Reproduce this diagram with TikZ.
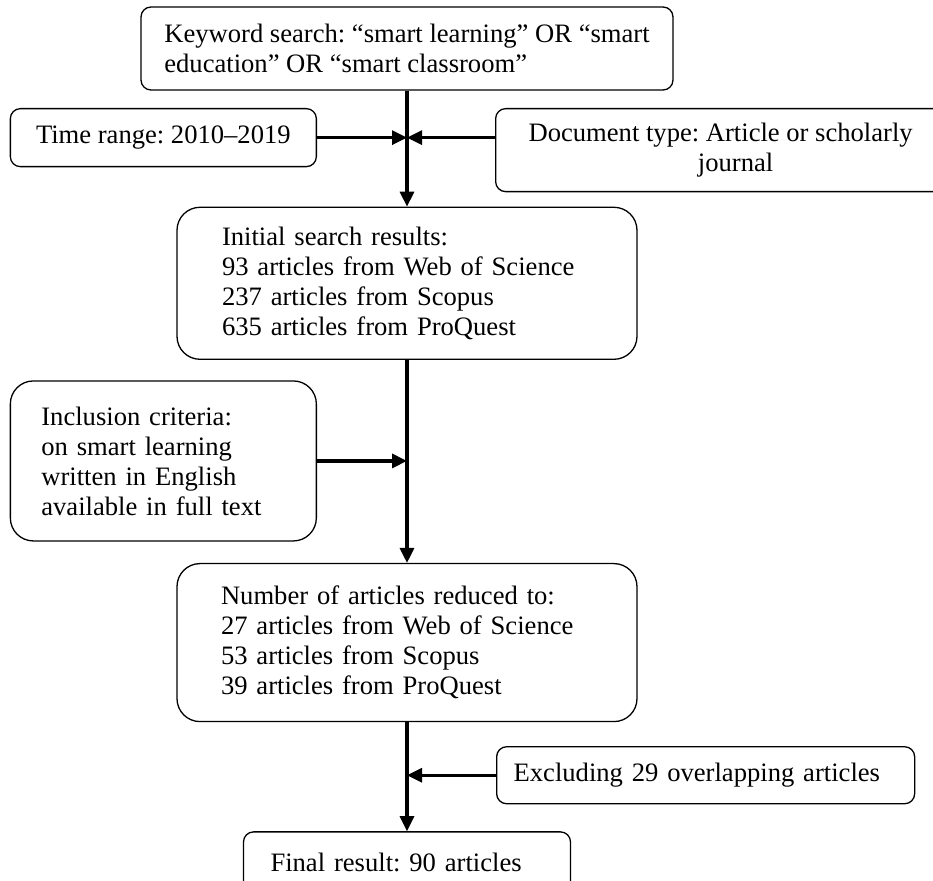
\documentclass[tikz,border=0pt]{standalone}
\usepackage{fontspec}
\setmainfont{Liberation Serif}
\usetikzlibrary{positioning, arrows.meta}
\frenchspacing

\begin{document}
\begin{tikzpicture}[font=\fontsize{13.3}{15}\selectfont, node distance=10pt,
  box/.style={draw=black, line width=0.65pt, rounded corners=5pt, fill=white, inner ysep=2pt},
  bigbox/.style={draw=black, line width=0.65pt, rounded corners=11.5pt, fill=white, inner ysep=2pt, align=left},
  ar/.style={-{Triangle[length=7.5pt, width=7pt]}, black, line width=1.6pt}]

\useasboundingbox (0,0) rectangle (466.5pt,-440.5pt);

\node[box, align=left, minimum width=266pt, minimum height=41.5pt] (kw) at (203.5pt,-24.25pt)
  {Keyword search: “smart learning” OR “smart\\education” OR “smart classroom”};
\coordinate[below=23.5pt of kw] (j1);
\node[box, align=left, minimum width=153pt, minimum height=29pt, left=45pt of j1] (time) {Time range: 2010--2019};
\node[box, align=center, minimum width=225pt, minimum height=41.5pt, right=44pt of j1, yshift=-6.25pt] (doc)
  {Document type: Article or scholarly\\\hspace*{15pt}journal};

\node[bigbox, text width=185pt, inner xsep=22.5pt, minimum height=76pt, below=58pt of kw] (ini)
  {Initial search results:\\93 articles from Web of Science\\237 articles from Scopus\\635 articles from ProQuest};
\coordinate[below=50.5pt of ini] (j2);
\node[bigbox, text width=122pt, inner xsep=15.5pt, minimum height=80pt, left=45pt of j2] (incl)
  {Inclusion criteria:\\on smart learning\\written in English\\available in full text};

\node[bigbox, text width=186pt, inner xsep=22pt, minimum height=79pt, below=101.5pt of ini] (num)
  {Number of articles reduced to:\\27 articles from Web of Science\\53 articles from Scopus\\39 articles from ProQuest};
\coordinate[below=26.5pt of num] (j3);
\node[box, align=left, text width=192pt, inner xsep=8.5pt, minimum height=28.5pt, right=44.5pt of j3] (excl)
  {Excluding 29 overlapping articles};

\node[box, align=left, text width=136.5pt, inner xsep=13.5pt, minimum height=31pt, below=54.5pt of num] (fin)
  {Final result: 90 articles};

\draw[ar] (kw) -- (ini);
\draw[ar] (time.east |- j1) -- (j1);
\draw[ar] (doc.west |- j1) -- (j1);
\draw[ar] (ini) -- (num);
\draw[ar] (incl.east |- j2) -- (j2);
\draw[ar] (num) -- (fin);
\draw[ar] (excl.west |- j3) -- (j3);
\end{tikzpicture}
\end{document}
